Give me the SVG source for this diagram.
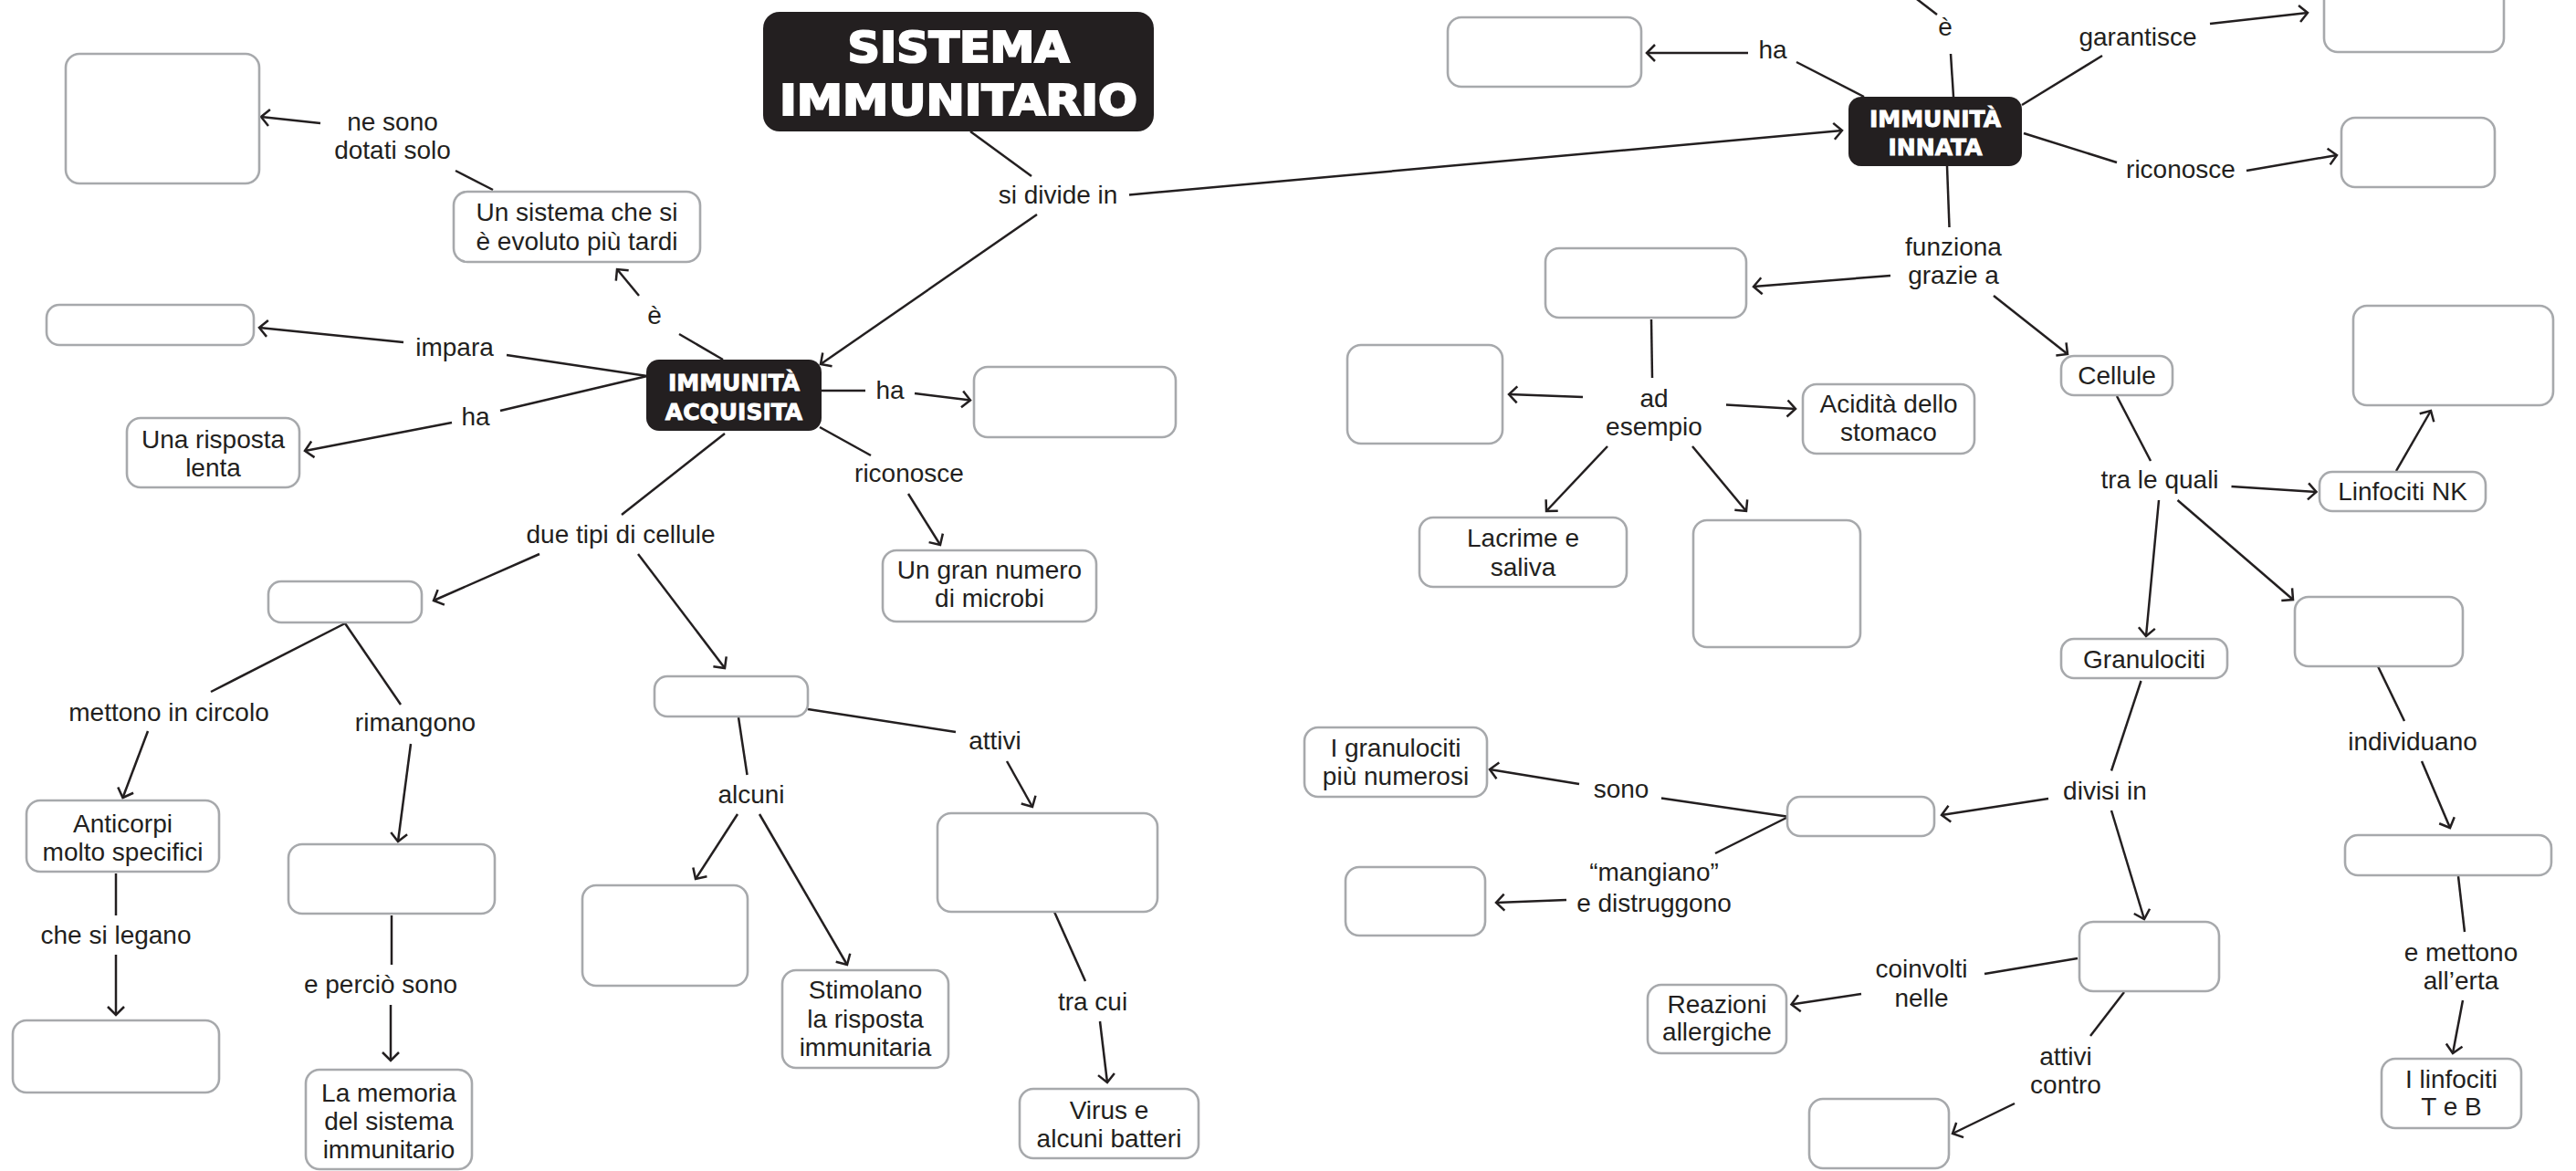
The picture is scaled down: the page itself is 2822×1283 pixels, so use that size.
<svg xmlns="http://www.w3.org/2000/svg" width="2822" height="1283" viewBox="0 0 2822 1283">
<style>
.bx{fill:#fff;stroke:#a7a9ac;stroke-width:2.6}
.dk{fill:#231f20}
.t{font-family:"Liberation Sans",Arial,sans-serif;font-size:28px;fill:#231f20;text-anchor:middle}
.w{font-family:"DejaVu Sans","Liberation Sans",sans-serif;font-weight:bold;fill:#fff;stroke:#fff;text-anchor:middle}
.c line{stroke:#231f20;stroke-width:2.5;fill:none}
.c line.a{marker-end:url(#ah)}
</style>
<defs>
<marker id="ah" viewBox="0 0 20 20" markerWidth="20" markerHeight="20" refX="19" refY="10" orient="auto" markerUnits="userSpaceOnUse" overflow="visible">
<path d="M10,1 L19,10 L10,19" fill="none" stroke="#231f20" stroke-width="2.5"/>
</marker>
</defs>
<rect width="2822" height="1283" fill="#fff"/>
<g id="connectors" class="c">
<line class="a" x1="351" y1="135" x2="286" y2="128"/>
<line x1="540" y1="208" x2="499" y2="187"/>
<line class="a" x1="700" y1="324" x2="676" y2="295"/>
<line x1="792" y1="394" x2="744" y2="366"/>
<line x1="709" y1="412" x2="555" y2="389"/>
<line class="a" x1="442" y1="375" x2="284" y2="359"/>
<line x1="709" y1="412" x2="548" y2="450"/>
<line class="a" x1="495" y1="463" x2="334" y2="494"/>
<line x1="1063" y1="144" x2="1130" y2="193"/>
<line class="a" x1="1136" y1="235" x2="899" y2="399"/>
<line class="a" x1="1237" y1="213.5" x2="2018" y2="143"/>
<line x1="900" y1="428" x2="948" y2="428"/>
<line class="a" x1="1002" y1="431" x2="1063" y2="438.5"/>
<line x1="898" y1="468" x2="954" y2="499"/>
<line class="a" x1="995" y1="541" x2="1030" y2="597"/>
<line x1="794" y1="475" x2="681" y2="564"/>
<line class="a" x1="591" y1="607" x2="475" y2="658"/>
<line class="a" x1="699" y1="607" x2="794" y2="732"/>
<line x1="378" y1="683" x2="231" y2="758"/>
<line x1="378" y1="683" x2="439" y2="772"/>
<line class="a" x1="162" y1="801" x2="134.5" y2="874"/>
<line x1="127" y1="957" x2="127" y2="1003"/>
<line class="a" x1="127" y1="1046" x2="127" y2="1112"/>
<line class="a" x1="450" y1="815" x2="436" y2="922"/>
<line x1="429" y1="1003" x2="429" y2="1057"/>
<line class="a" x1="428" y1="1101" x2="428" y2="1162"/>
<line x1="809" y1="786" x2="818.5" y2="849"/>
<line class="a" x1="808" y1="892" x2="762" y2="963"/>
<line class="a" x1="832" y1="892" x2="928" y2="1057"/>
<line x1="885" y1="777" x2="1047" y2="802"/>
<line class="a" x1="1103" y1="834" x2="1131" y2="884"/>
<line x1="1155" y1="999" x2="1189" y2="1075"/>
<line class="a" x1="1205" y1="1119" x2="1213" y2="1186"/>
<line class="a" x1="1915" y1="58" x2="1804" y2="58"/>
<line x1="1968" y1="68" x2="2042" y2="106"/>
<line x1="2096" y1="-4" x2="2122" y2="16"/>
<line x1="2137" y1="59" x2="2140" y2="106"/>
<line x1="2215" y1="115" x2="2303" y2="61"/>
<line class="a" x1="2421" y1="26" x2="2528" y2="14"/>
<line x1="2217" y1="146" x2="2319" y2="178"/>
<line class="a" x1="2461" y1="187" x2="2560" y2="170"/>
<line x1="2133" y1="182" x2="2135.5" y2="249"/>
<line class="a" x1="2071" y1="302" x2="1921" y2="314"/>
<line class="a" x1="2184" y1="324" x2="2265" y2="388"/>
<line x1="1809" y1="350" x2="1810" y2="414"/>
<line class="a" x1="1734" y1="435" x2="1653" y2="432"/>
<line class="a" x1="1891" y1="443.5" x2="1967" y2="448"/>
<line class="a" x1="1761" y1="489" x2="1694" y2="560"/>
<line class="a" x1="1854" y1="489" x2="1913" y2="560"/>
<line x1="2319" y1="434" x2="2356" y2="505"/>
<line class="a" x1="2444.5" y1="533" x2="2537.5" y2="539"/>
<line class="a" x1="2625" y1="516" x2="2663" y2="450"/>
<line class="a" x1="2365" y1="548" x2="2351" y2="697"/>
<line class="a" x1="2385.5" y1="548" x2="2512" y2="657"/>
<line x1="2605" y1="730" x2="2634" y2="790"/>
<line class="a" x1="2653" y1="834" x2="2684" y2="907"/>
<line x1="2693" y1="960" x2="2700" y2="1021"/>
<line class="a" x1="2698" y1="1096" x2="2687" y2="1154"/>
<line x1="2345.5" y1="746" x2="2313" y2="844.5"/>
<line class="a" x1="2244" y1="875" x2="2127" y2="893"/>
<line class="a" x1="2313" y1="888" x2="2349" y2="1007"/>
<line x1="2276" y1="1050" x2="2174" y2="1067"/>
<line x1="2327" y1="1087" x2="2290" y2="1135"/>
<line class="a" x1="2207" y1="1209" x2="2139" y2="1242"/>
<line class="a" x1="1730" y1="859" x2="1632" y2="843"/>
<line x1="1957" y1="894.5" x2="1820" y2="874.5"/>
<line x1="1957" y1="896" x2="1879" y2="935"/>
<line class="a" x1="1716" y1="986" x2="1639" y2="989"/>
<line class="a" x1="2039" y1="1089" x2="1962.5" y2="1100.6"/>
<g id="labels">
<text class="t" x="430" y="143">ne sono</text>
<text class="t" x="430" y="174">dotati solo</text>
<text class="t" x="717" y="355">è</text>
<text class="t" x="498" y="390">impara</text>
<text class="t" x="521" y="466">ha</text>
<text class="t" x="1159" y="223">si divide in</text>
<text class="t" x="975" y="437">ha</text>
<text class="t" x="996" y="528">riconosce</text>
<text class="t" x="680" y="595">due tipi di cellule</text>
<text class="t" x="185" y="790">mettono in circolo</text>
<text class="t" x="455" y="801">rimangono</text>
<text class="t" x="127" y="1034">che si legano</text>
<text class="t" x="417" y="1088">e perciò sono</text>
<text class="t" x="823" y="880">alcuni</text>
<text class="t" x="1090" y="821">attivi</text>
<text class="t" x="1197" y="1107">tra cui</text>
<text class="t" x="1942" y="64">ha</text>
<text class="t" x="2131" y="39">è</text>
<text class="t" x="2342" y="50">garantisce</text>
<text class="t" x="2389" y="195">riconosce</text>
<text class="t" x="2140" y="280">funziona</text>
<text class="t" x="2140" y="311">grazie a</text>
<text class="t" x="1812" y="446">ad</text>
<text class="t" x="1812" y="477">esempio</text>
<text class="t" x="2366" y="535">tra le quali</text>
<text class="t" x="2643" y="822">individuano</text>
<text class="t" x="2696" y="1053">e mettono</text>
<text class="t" x="2696" y="1084">all’erta</text>
<text class="t" x="2306" y="876">divisi in</text>
<text class="t" x="1776" y="874">sono</text>
<text class="t" x="1812" y="965">“mangiano”</text>
<text class="t" x="1812" y="999">e distruggono</text>
<text class="t" x="2105" y="1071">coinvolti</text>
<text class="t" x="2105" y="1103">nelle</text>
<text class="t" x="2263" y="1167">attivi</text>
<text class="t" x="2263" y="1198">contro</text>
</g>
</g>
<g id="n-title"><rect class="dk" x="836" y="13" width="428" height="131" rx="18"/><text class="w" font-size="47" stroke-width="2.2" x="1050" y="68" textLength="243" lengthAdjust="spacingAndGlyphs">SISTEMA</text><text class="w" font-size="47" stroke-width="2.2" x="1050" y="126" textLength="392" lengthAdjust="spacingAndGlyphs">IMMUNITARIO</text></g>
<g id="n-acquisita"><rect class="dk" x="708" y="394" width="192" height="78" rx="14"/><text class="w" font-size="25" stroke-width="0.9" x="804" y="428">IMMUNITÀ</text><text class="w" font-size="25" stroke-width="0.9" x="804" y="460">ACQUISITA</text></g>
<g id="n-innata"><rect class="dk" x="2025" y="106" width="190" height="76" rx="14"/><text class="w" font-size="25" stroke-width="0.9" x="2120" y="139">IMMUNITÀ</text><text class="w" font-size="25" stroke-width="0.9" x="2120" y="170">INNATA</text></g>
<g id="n-a"><rect class="bx" x="72" y="59" width="212" height="142" rx="15"/></g>
<g id="n-evoluto"><rect class="bx" x="497" y="210" width="270" height="77" rx="15"/><text class="t" x="632" y="242">Un sistema che si</text><text class="t" x="632" y="274">è evoluto più tardi</text></g>
<g id="n-impara"><rect class="bx" x="51" y="334" width="227" height="44" rx="14"/></g>
<g id="n-lenta"><rect class="bx" x="139" y="458" width="189" height="76" rx="15"/><text class="t" x="233.5" y="491">Una risposta</text><text class="t" x="233.5" y="522">lenta</text></g>
<g id="n-ha-acq"><rect class="bx" x="1067" y="402" width="221" height="77" rx="15"/></g>
<g id="n-microbi"><rect class="bx" x="967" y="603" width="234" height="78" rx="15"/><text class="t" x="1084" y="634">Un gran numero</text><text class="t" x="1084" y="665">di microbi</text></g>
<g id="n-c"><rect class="bx" x="294" y="637" width="168" height="45" rx="14"/></g>
<g id="n-anticorpi"><rect class="bx" x="29" y="877" width="211" height="78" rx="15"/><text class="t" x="134.5" y="912">Anticorpi</text><text class="t" x="134.5" y="943">molto specifici</text></g>
<g id="n-r"><rect class="bx" x="14" y="1118" width="226" height="79" rx="15"/></g>
<g id="n-s"><rect class="bx" x="316" y="925" width="226" height="76" rx="15"/></g>
<g id="n-memoria"><rect class="bx" x="335" y="1172" width="182" height="109" rx="15"/><text class="t" x="426" y="1207">La memoria</text><text class="t" x="426" y="1238">del sistema</text><text class="t" x="426" y="1269">immunitario</text></g>
<g id="n-u"><rect class="bx" x="717" y="741" width="168" height="44" rx="14"/></g>
<g id="n-t"><rect class="bx" x="638" y="970" width="181" height="110" rx="15"/></g>
<g id="n-stimolano"><rect class="bx" x="857" y="1063" width="182" height="107" rx="15"/><text class="t" x="948" y="1094">Stimolano</text><text class="t" x="948" y="1126">la risposta</text><text class="t" x="948" y="1157">immunitaria</text></g>
<g id="n-v"><rect class="bx" x="1027" y="891" width="241" height="108" rx="15"/></g>
<g id="n-virus"><rect class="bx" x="1117" y="1193" width="196" height="76" rx="15"/><text class="t" x="1215" y="1226">Virus e</text><text class="t" x="1215" y="1257">alcuni batteri</text></g>
<g id="n-e"><rect class="bx" x="1586" y="19" width="212" height="76" rx="15"/></g>
<g id="n-i"><rect class="bx" x="2546" y="-20" width="197" height="77" rx="15"/></g>
<g id="n-j"><rect class="bx" x="2565" y="129" width="168" height="76" rx="15"/></g>
<g id="n-f"><rect class="bx" x="1693" y="272" width="220" height="76" rx="15"/></g>
<g id="n-g"><rect class="bx" x="1476" y="378" width="170" height="108" rx="15"/></g>
<g id="n-acidita"><rect class="bx" x="1975" y="421" width="188" height="76" rx="15"/><text class="t" x="2069" y="452">Acidità dello</text><text class="t" x="2069" y="483">stomaco</text></g>
<g id="n-lacrime"><rect class="bx" x="1555" y="567" width="227" height="76" rx="15"/><text class="t" x="1668.5" y="599">Lacrime e</text><text class="t" x="1668.5" y="631">saliva</text></g>
<g id="n-h"><rect class="bx" x="1855" y="570" width="183" height="139" rx="15"/></g>
<g id="n-cellule"><rect class="bx" x="2258" y="390" width="122" height="43" rx="14"/><text class="t" x="2319" y="421">Cellule</text></g>
<g id="n-k"><rect class="bx" x="2578" y="335" width="219" height="109" rx="15"/></g>
<g id="n-nk"><rect class="bx" x="2541" y="517" width="182" height="43" rx="14"/><text class="t" x="2632" y="548">Linfociti NK</text></g>
<g id="n-granulociti"><rect class="bx" x="2258" y="700" width="182" height="43" rx="14"/><text class="t" x="2349" y="732">Granulociti</text></g>
<g id="n-l"><rect class="bx" x="2514" y="654" width="184" height="76" rx="15"/></g>
<g id="n-m"><rect class="bx" x="2569" y="915" width="226" height="44" rx="14"/></g>
<g id="n-tb"><rect class="bx" x="2609" y="1160" width="153" height="76" rx="15"/><text class="t" x="2685.5" y="1192">I linfociti</text><text class="t" x="2685.5" y="1222">T e B</text></g>
<g id="n-p"><rect class="bx" x="1958" y="873" width="161" height="43" rx="14"/></g>
<g id="n-n"><rect class="bx" x="2278" y="1010" width="153" height="76" rx="15"/></g>
<g id="n-o"><rect class="bx" x="1982" y="1204" width="153" height="76" rx="15"/></g>
<g id="n-granpiu"><rect class="bx" x="1429" y="797" width="200" height="76" rx="15"/><text class="t" x="1529" y="829">I granulociti</text><text class="t" x="1529" y="860">più numerosi</text></g>
<g id="n-q"><rect class="bx" x="1474" y="950" width="153" height="75" rx="15"/></g>
<g id="n-reazioni"><rect class="bx" x="1805" y="1079" width="152" height="75" rx="15"/><text class="t" x="1881" y="1110">Reazioni</text><text class="t" x="1881" y="1140">allergiche</text></g>
</svg>
